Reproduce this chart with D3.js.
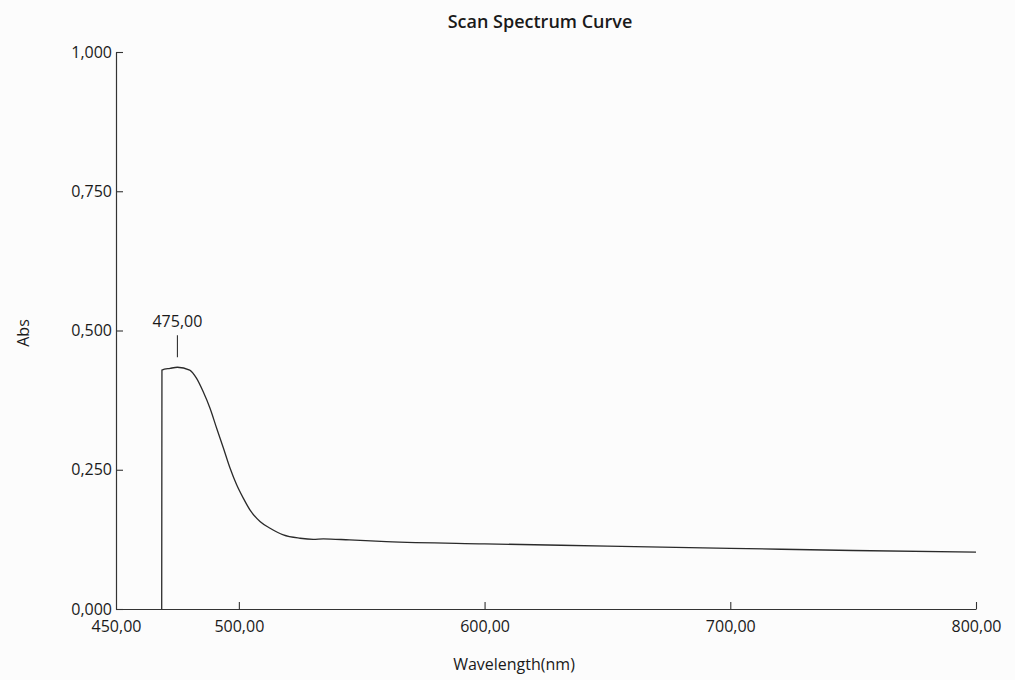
<!DOCTYPE html>
<html>
<head>
<meta charset="utf-8">
<script src="https://cdn.jsdelivr.net/npm/d3@7"></script>
<style>
  body { margin: 0; background: #fcfcfc; }
  svg { font-family: "Open Sans", sans-serif; }
</style>
</head>
<body>
<div id="chart"></div>
<script>
// scan spectrum
let wavelengths = [468.6, 468.7, 472, 475, 480, 482.8, 485.5, 488.3, 491, 493.7, 496.4, 499.1, 501.8, 504.5, 508.6, 512.7, 518.1, 524.9, 530.3, 534.4, 545, 560, 600, 650, 700, 750, 800];
let absValues  = [0, 0.429, 0.432, 0.434, 0.429, 0.414, 0.390, 0.360, 0.324, 0.289, 0.253, 0.223, 0.199, 0.178, 0.157, 0.145, 0.133, 0.127, 0.125, 0.126, 0.124, 0.121, 0.117, 0.113, 0.109, 0.105, 0.102];
let xTicks = [450, 500, 600, 700, 800];
let yTicks = [0, 0.25, 0.5, 0.75, 1];
let peakWavelength = 475;

let width = 1015, height = 680;
let margin = {left: 116, right: 39, top: 52, bottom: 71};

let locale = d3.formatLocale({decimal: ",", thousands: ".", grouping: [3], currency: ["", ""]});
let fmtY = locale.format(".3f"),
    fmtX = locale.format(".2f");

let svg = d3.select("#chart").append("svg")
    .attr("width", width)
    .attr("height", height);

let x = d3.scaleLinear()
    .domain([450, 800])
    .range([margin.left, width - margin.right]);

let y = d3.scaleLinear()
    .domain([0, 1])
    .range([height - margin.bottom, margin.top]);

//axes
let xAxis = svg.append("g")
    .attr("transform", "translate(0," + y(0) + ")")
    .call(d3.axisBottom(x).tickValues(xTicks).tickFormat(fmtX)
        .tickSizeInner(-7).tickSizeOuter(0).tickPadding(12));

let yAxis = svg.append("g")
    .attr("transform", "translate(" + x(450) + ",0)")
    .call(d3.axisLeft(y).tickValues(yTicks).tickFormat(fmtY)
        .tickSizeInner(-7).tickSizeOuter(0).tickPadding(4));

[xAxis, yAxis].forEach(function (a) {
    a.select(".domain").attr("stroke", "#333").attr("stroke-width", 1.2);
    a.selectAll(".tick line").attr("stroke", "#333").attr("stroke-width", 1.1);
    a.selectAll(".tick text")
        .attr("fill", "#1a1a1a")
        .attr("font-size", 16)
        .attr("font-family", "'Open Sans', sans-serif");
});
xAxis.selectAll(".tick").filter(function (d) { return d === 450; }).select("line").remove();

//curve
let data = wavelengths.map(function (w, i) { return [w, absValues[i]]; });

let line = d3.line()
    .x(function (d) { return x(d[0]); })
    .y(function (d) { return y(d[1]); })
    .curve(d3.curveMonotoneX);

svg.append("path")
    .datum(data)
    .attr("fill", "none")
    .attr("stroke", "#2a2a2a")
    .attr("stroke-width", 1.3)
    .attr("d", line);

//peak label
let peakVal = absValues[wavelengths.indexOf(peakWavelength)];
svg.append("line")
    .attr("x1", x(peakWavelength)).attr("x2", x(peakWavelength))
    .attr("y1", y(peakVal) - 10).attr("y2", y(peakVal) - 32)
    .attr("stroke", "#333")
    .attr("stroke-width", 1.1);

svg.append("text")
    .attr("x", x(peakWavelength))
    .attr("y", y(peakVal) - 46)
    .attr("text-anchor", "middle")
    .attr("dy", "0.35em")
    .attr("font-size", 16)
    .attr("fill", "#1a1a1a")
    .text(fmtX(peakWavelength));

//titles
svg.append("text")
    .attr("x", 540)
    .attr("y", 22)
    .attr("dy", "0.35em")
    .attr("text-anchor", "middle")
    .attr("font-size", 18)
    .attr("font-weight", 600)
    .attr("fill", "#1a1a1a")
    .text("Scan Spectrum Curve");

svg.append("text")
    .attr("x", 514)
    .attr("y", 664)
    .attr("dy", "0.35em")
    .attr("text-anchor", "middle")
    .attr("font-size", 16)
    .attr("fill", "#1a1a1a")
    .text("Wavelength(nm)");

svg.append("text")
    .attr("transform", "translate(23,333) rotate(-90)")
    .attr("dy", "0.35em")
    .attr("text-anchor", "middle")
    .attr("font-size", 16)
    .attr("fill", "#1a1a1a")
    .text("Abs");
</script>
</body>
</html>
